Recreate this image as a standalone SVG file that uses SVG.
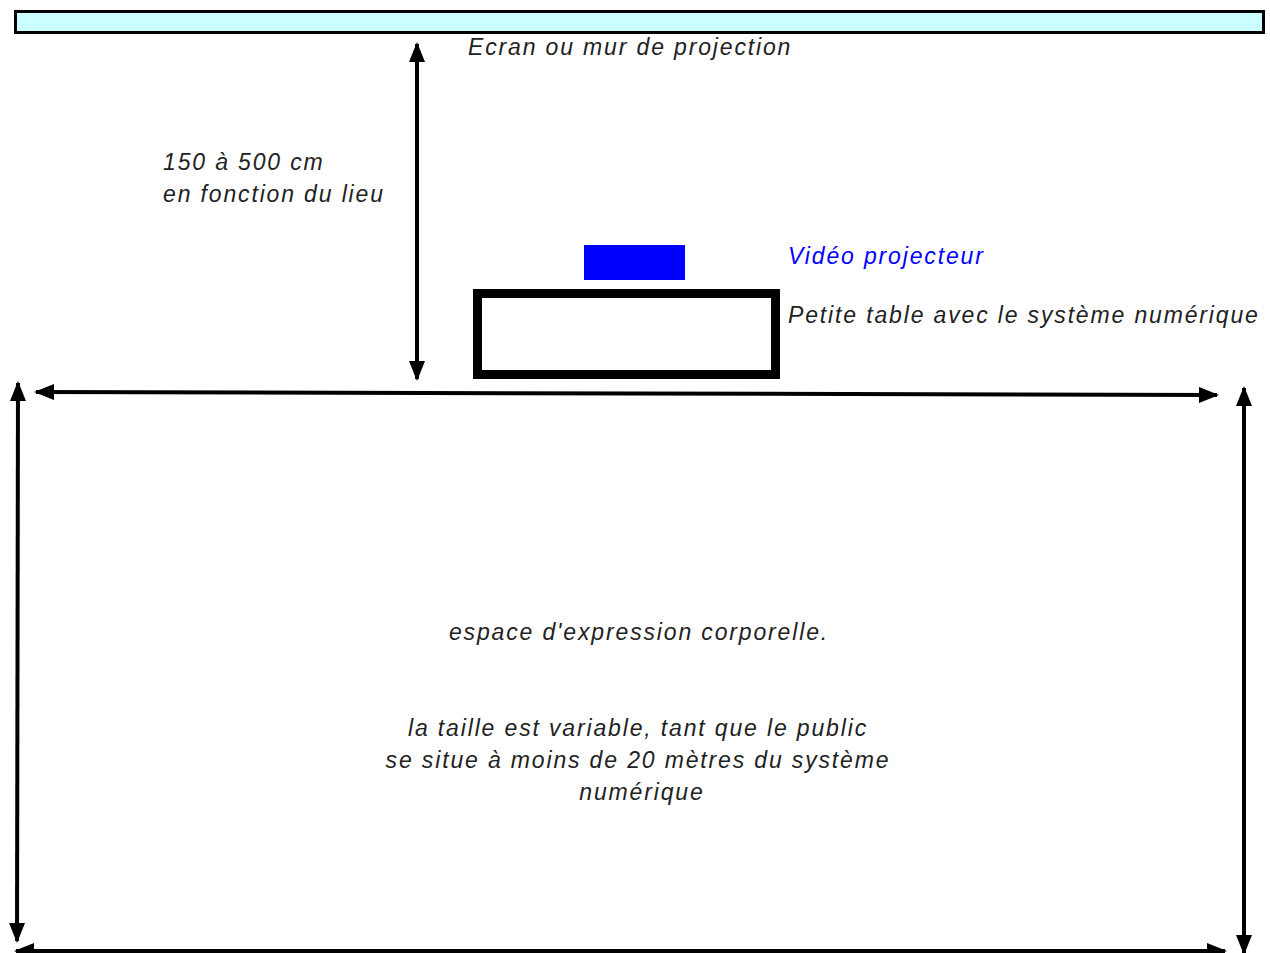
<svg xmlns="http://www.w3.org/2000/svg" width="1270" height="953" viewBox="0 0 1270 953">
<style>
.t{font-family:"Liberation Sans",Arial,sans-serif;font-style:italic;font-size:23px;letter-spacing:1.85px;fill:#222}
.c{text-anchor:middle}
.ln{stroke:#000;stroke-width:4;fill:none}
</style>
<defs>
<marker id="ah" viewBox="0 0 20 16" refX="18" refY="8" markerWidth="5" markerHeight="4" orient="auto-start-reverse" markerUnits="strokeWidth">
<path d="M0,0 L20,8 L0,16 z" fill="#000"/>
</marker>
</defs>
<rect width="1270" height="953" fill="#fff"/>
<g id="ecran">
<rect x="15.5" y="11.5" width="1248" height="21" fill="#ccffff" stroke="#000" stroke-width="3"/>
<text class="t" x="468" y="55">Ecran ou mur de projection</text>
</g>
<g id="projecteur">
<rect x="584" y="245" width="101" height="35" fill="#0000ff"/>
<text class="t" x="788" y="264" style="fill:#0000ff">Vidéo projecteur</text>
</g>
<g id="table">
<rect x="477.5" y="293.5" width="298" height="81" fill="#fff" stroke="#000" stroke-width="9"/>
<text class="t" x="788" y="323">Petite table avec le système numérique</text>
</g>
<g id="distance">
<text class="t" x="163" y="170">150 à 500 cm</text>
<text class="t" x="163" y="202">en fonction du lieu</text>
</g>
<g id="espace">
<text class="t c" x="639" y="640">espace d'expression corporelle.</text>
<text class="t c" x="638" y="736">la taille est variable, tant que le public</text>
<text class="t c" x="638" y="768">se situe à moins de 20 mètres du système</text>
<text class="t c" x="642" y="800">numérique</text>
</g>
<g id="connectors">
<line class="ln" x1="417" y1="44" x2="417" y2="379" marker-start="url(#ah)" marker-end="url(#ah)"/>
<line class="ln" x1="36" y1="392" x2="1217" y2="395" marker-start="url(#ah)" marker-end="url(#ah)"/>
<line class="ln" x1="18" y1="383" x2="17" y2="941" marker-start="url(#ah)" marker-end="url(#ah)"/>
<line class="ln" x1="1244" y1="388" x2="1244" y2="953" marker-start="url(#ah)" marker-end="url(#ah)"/>
<line class="ln" x1="16" y1="951" x2="1225" y2="951" marker-start="url(#ah)" marker-end="url(#ah)"/>
</g>
</svg>
